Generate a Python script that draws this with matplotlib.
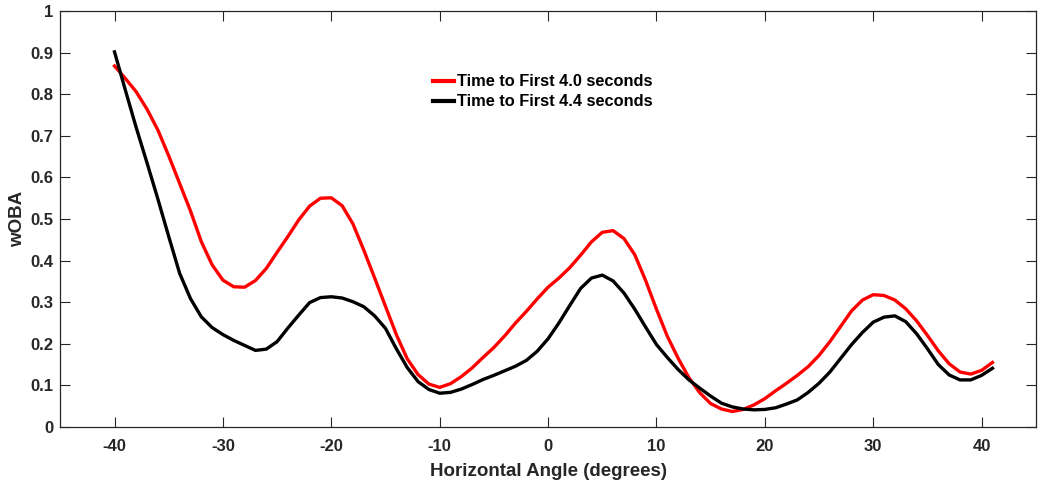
import matplotlib
matplotlib.use("Agg")
import matplotlib.pyplot as plt
import numpy as np

# horizontal angle, one sample per degree
angles = list(range(-40, 42))

woba_40 = [0.868, 0.838, 0.806, 0.764, 0.714, 0.652, 0.586, 0.520, 0.446, 0.390,
           0.353, 0.337, 0.336, 0.352, 0.381, 0.420, 0.458, 0.498, 0.531, 0.550,
           0.551, 0.532, 0.488, 0.425, 0.358, 0.290, 0.222, 0.164, 0.126, 0.103,
           0.095, 0.104, 0.121, 0.142, 0.167, 0.191, 0.219, 0.250, 0.278, 0.308,
           0.336, 0.358, 0.383, 0.413, 0.445, 0.468, 0.472, 0.453, 0.414, 0.352,
           0.283, 0.218, 0.165, 0.118, 0.082, 0.056, 0.043, 0.037, 0.042, 0.053,
           0.068, 0.087, 0.105, 0.124, 0.145, 0.172, 0.205, 0.242, 0.279, 0.305,
           0.318, 0.316, 0.305, 0.284, 0.255, 0.220, 0.183, 0.152, 0.132, 0.127,
           0.136, 0.155]

woba_44 = [0.902, 0.810, 0.720, 0.635, 0.548, 0.458, 0.370, 0.309, 0.265, 0.239,
           0.222, 0.208, 0.196, 0.184, 0.187, 0.205, 0.238, 0.269, 0.299, 0.311,
           0.313, 0.310, 0.301, 0.289, 0.267, 0.237, 0.188, 0.143, 0.109, 0.090,
           0.081, 0.083, 0.091, 0.102, 0.114, 0.124, 0.135, 0.146, 0.160, 0.182,
           0.212, 0.250, 0.292, 0.333, 0.358, 0.365, 0.351, 0.322, 0.283, 0.240,
           0.198, 0.167, 0.138, 0.113, 0.093, 0.074, 0.057, 0.048, 0.043, 0.041,
           0.042, 0.046, 0.055, 0.065, 0.083, 0.105, 0.132, 0.165, 0.198, 0.227,
           0.252, 0.264, 0.267, 0.253, 0.224, 0.188, 0.150, 0.125, 0.113, 0.113,
           0.124, 0.141]

labels = ["Time to First 4.0 seconds", "Time to First 4.4 seconds"]
x_ticks = [-40, -30, -20, -10, 0, 10, 20, 30, 40]
y_ticks = [0, 0.1, 0.2, 0.3, 0.4, 0.5, 0.6, 0.7, 0.8, 0.9, 1]
y_ticklabels = ["0", "0.1", "0.2", "0.3", "0.4", "0.5", "0.6", "0.7", "0.8", "0.9", "1"]

plt.rcParams["font.family"] = ["Liberation Sans", "DejaVu Sans"]
plt.rcParams["font.weight"] = "bold"
plt.rcParams["axes.unicode_minus"] = False

fig = plt.figure(figsize=(10.4, 4.84), dpi=100)
ax = fig.add_axes([0.058, 0.118, 0.938, 0.859])

ax.plot(angles, woba_40, color="#ff0000", lw=2.4, label=labels[0])
ax.plot(angles, woba_44, color="#000000", lw=2.4, label=labels[1])

ax.set_xlim(-45, 45)
ax.set_ylim(0, 1)
ax.set_xticks(x_ticks)
ax.set_yticks(y_ticks)
ax.set_yticklabels(y_ticklabels)

grey = "#262626"
for s in ax.spines.values():
    s.set_color(grey)
    s.set_linewidth(0.9)
ax.tick_params(direction="in", length=7, width=0.8, colors=grey,
               top=True, right=True, labelsize=12, pad=5)
ax.tick_params(axis="x", pad=9)
for t in ax.get_xticklabels() + ax.get_yticklabels():
    t.set_fontweight("bold")

ax.set_xlabel("Horizontal Angle (degrees)", fontsize=13.5, fontweight="bold",
              color=grey, labelpad=6)
ax.set_ylabel("wOBA", fontsize=13.5, fontweight="bold", color=grey, labelpad=3)

leg = ax.legend(loc="upper left", bbox_to_anchor=(0.382, 0.848), frameon=False,
                fontsize=11.8, handlelength=1.3, handletextpad=0.15,
                labelspacing=0.3, borderaxespad=0, borderpad=0)
for t in leg.get_texts():
    t.set_fontweight("bold")
for h in leg.get_lines():
    h.set_linewidth(3)

fig.savefig("out.png", dpi=100)
